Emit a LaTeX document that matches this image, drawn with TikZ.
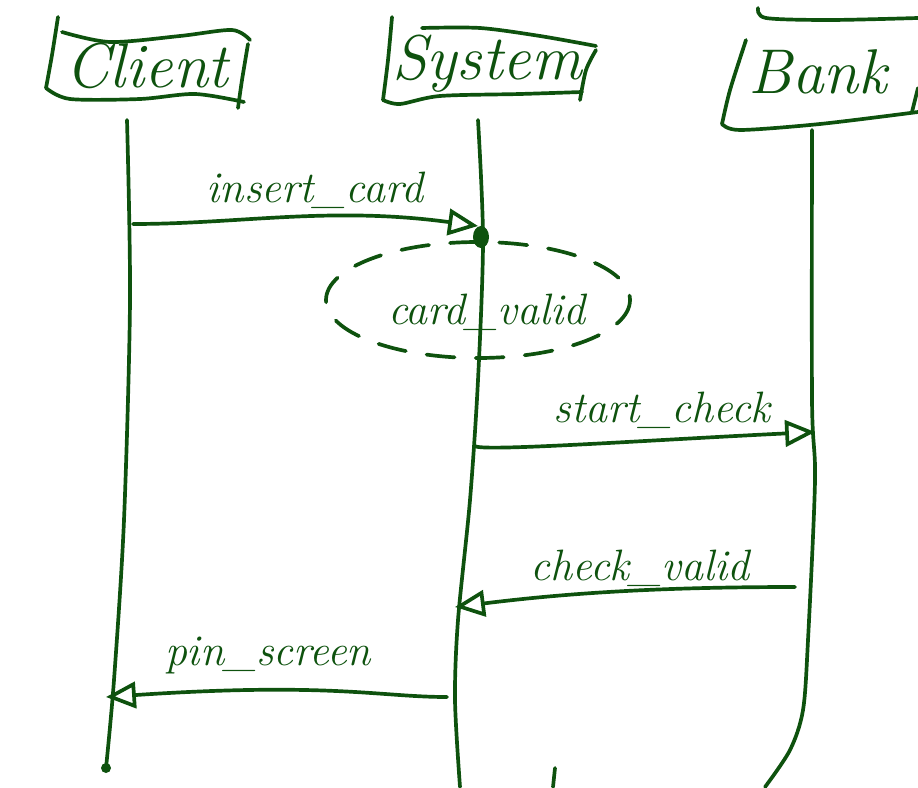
\documentclass[tikz,border=0pt]{standalone}
\usetikzlibrary{arrows.meta,calc}
\definecolor{ink}{RGB}{14,82,14}
\begin{document}
\begin{tikzpicture}[x=0.02cm,y=-0.02cm,
  pen/.style={draw=ink,line width=2.1pt,line cap=round,line join=round},
  title/.style={text=ink,font=\fontsize{36}{36}\selectfont\itshape},
  msg/.style={text=ink,font=\fontsize{25}{25}\selectfont\itshape},
  tip/.style={-{Triangle[open,length=17pt,width=15pt,line width=2.1pt]}},
]
\useasboundingbox (0,0) rectangle (918,787);

% participant names
\node[title] (client) at (147,66) {Client};
\node[title] (system) at (487,64) {System};
\node[title] (bank)   at (818,72) {Bank};

% hand-drawn frames around the participants
\draw[pen] plot[smooth] coordinates {(58,17) (52,55) (46,88)};
\draw[pen] plot[smooth] coordinates {(46,88) (70,99) (140,99) (195,94) (244,102)};
\draw[pen] plot[smooth] coordinates {(62,32) (110,42) (180,36) (232,30) (250,40)};
\draw[pen] plot[smooth] coordinates {(248,44) (242,80) (238,108)};

\draw[pen] plot[smooth] coordinates {(392,17) (388,60) (383,100)};
\draw[pen] plot[smooth] coordinates {(383,100) (400,104) (440,96) (520,94) (582,92)};
\draw[pen] plot[smooth] coordinates {(422,28) (480,28) (540,36) (596,46)};
\draw[pen] plot[smooth] coordinates {(596,50) (586,70) (580,100)};

\draw[pen] plot[smooth] coordinates {(758,8) (766,18) (830,20) (918,18)};
\draw[pen] plot[smooth] coordinates {(746,40) (730,90) (722,124)};
\draw[pen] plot[smooth] coordinates {(722,124) (740,130) (820,124) (918,112)};
\draw[pen] plot[smooth] coordinates {(918,88) (912,112)};

% lifelines
\draw[pen] plot[smooth] coordinates {(127,120) (130,300) (124,520) (114,680) (106,768)};
\fill[ink] (106,768) circle (5);
\draw[pen] plot[smooth] coordinates {(478,120) (483,240) (478,380) (470,500) (458,620) (455,700) (460,787)};
\draw[pen] plot[smooth] coordinates {(812,130) (812,400) (815,480) (808,640) (803,710) (790,750) (765,787)};
\draw[pen] (555,768) -- (553,787);

% message anchors on the lifelines
\coordinate (c1) at (133,224);
\coordinate (s1) at (478,226);
\coordinate (s2) at (475,446);
\coordinate (b2) at (815,432);
\coordinate (b3) at (795,587);
\coordinate (s3) at (455,607);
\coordinate (s4) at (447,697);
\coordinate (c4) at (106,697);

% messages
\draw[pen,tip] (c1) .. controls (240,224) and (330,206) .. (s1);
\node[msg] (m1) at (315,190) {insert\_card};

\fill[ink] (481,237) ellipse (8 and 11);
\draw[pen,dash pattern=on 16pt off 12pt] (478,300) ellipse (152 and 58);
\node[msg] (m2) at (487,312) {card\_valid};

\draw[pen,tip] (s2) .. controls (480,452) and (650,440) .. (b2);
\node[msg] (m3) at (662,410) {start\_check};

\draw[pen,tip] (b3) .. controls (650,587) and (560,594) .. (s3);
\node[msg] (m4) at (640,568) {check\_valid};

\draw[pen,tip] (s4) .. controls (380,697) and (330,682) .. (c4);
\node[msg] (m5) at (268,655) {pin\_screen};
\end{tikzpicture}
\end{document}
